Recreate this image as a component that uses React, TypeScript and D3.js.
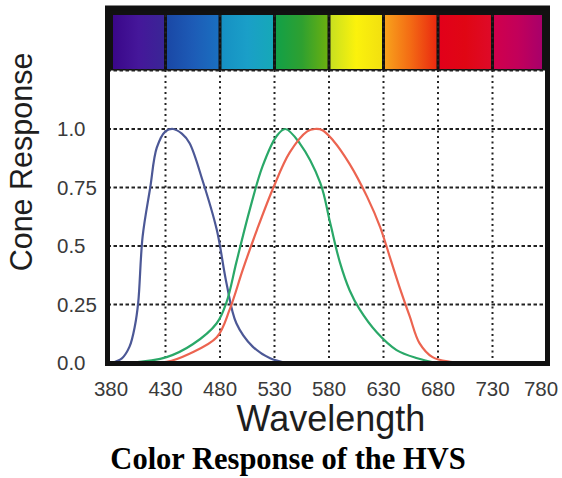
import React from "react";
import * as d3 from "d3";

const xTicks = [380, 430, 480, 530, 580, 630, 680, 730, 780];
const yTicks = [0, 0.25, 0.5, 0.75, 1.0];
const yTickLabels = ["0.0", "0.25", "0.5", "0.75", "1.0"];

// S cone (blue)
const sCone: [number, number][] = [
  [380, 0], [390, 0.02], [397, 0.07], [402, 0.16], [405, 0.26], [409, 0.54], [416, 0.75], [422, 0.92],
  [430, 0.99], [437, 1.0], [445, 0.98], [452, 0.94], [464, 0.78], [477, 0.57], [486, 0.34],
  [495, 0.17], [510, 0.07], [526, 0.02], [541, 0],
];
// M cone (green)
const mCone: [number, number][] = [
  [397, 0], [431, 0.025], [455, 0.08], [477, 0.17], [486, 0.26], [495, 0.43], [507, 0.65],
  [519, 0.84], [532, 0.97], [540, 1.0], [553, 0.94], [572, 0.77], [581, 0.6], [590, 0.43],
  [599, 0.31], [608, 0.23], [624, 0.13], [642, 0.055], [661, 0.02], [679, 0],
];
// L cone (red)
const lCone: [number, number][] = [
  [400, 0], [431, 0.005], [452, 0.04], [477, 0.11], [489, 0.23], [501, 0.4], [514, 0.57],
  [529, 0.75], [544, 0.9], [560, 0.99], [567, 1.0], [574, 0.995], [584, 0.95], [599, 0.85],
  [615, 0.71], [627, 0.58], [636, 0.45], [645, 0.32], [654, 0.2], [663, 0.085], [675, 0.025],
  [691, 0.005], [705, 0],
];

const bandStops: string[][] = [
  ["#3a0789", "#45179a", "#3a2596"],
  ["#1a48a6", "#1d5bb6", "#1a6fc0"],
  ["#1690c3", "#1a9fc8", "#16a8b8"],
  ["#12a048", "#2ea030", "#6ab010"],
  ["#c8e020", "#fbf20c", "#f2e010"],
  ["#f8a21c", "#f36a14", "#ea2a10"],
  ["#e2001a", "#e00614", "#de0a28"],
  ["#d0004c", "#c2005a", "#a8006a"],
];

const series = [
  { data: sCone, color: "#4c5896" },
  { data: mCone, color: "#2aa868" },
  { data: lCone, color: "#ec6450" },
];

export default function App() {
  const W = 562, H = 478;
  const x = d3.scaleLinear().domain([380, 780]).range([111, 547]);
  const y = d3.scaleLinear().domain([0, 1.25]).range([363, 70.5]);
  const line = d3.line<[number, number]>()
    .x((d) => x(d[0]))
    .y((d) => y(d[1]))
    .curve(d3.curveCatmullRom.alpha(0.5));

  const segs = d3.pairs(xTicks);
  const bandTop = 15, bandBot = y(1.25);
  const frameL = 107.5, frameR = 547.5, frameT = 8, frameB = 363.5;
  const sans = "Liberation Sans, Arial, sans-serif";

  return (
    <svg width={W} height={H} style={{ position: "absolute", left: 0, top: 0 }}>
      <defs>
        {bandStops.map((st, i) => (
          <linearGradient key={i} id={`bg${i}`} x1="0" x2="1" y1="0" y2="0">
            {st.map((c, j) => (
              <stop key={j} offset={`${(j / (st.length - 1)) * 100}%`} stopColor={c} />
            ))}
          </linearGradient>
        ))}
      </defs>
      <rect width={W} height={H} fill="#fff" />
      {/* band background */}
      <rect x={frameL} y={frameT} width={frameR - frameL} height={bandBot - frameT} fill="#111" />
      {segs.map(([a, b], i) => {
        const x0 = Math.max(x(a) + 1.5, 113);
        const x1 = Math.min(x(b) - 1.5, 542);
        return (
          <rect key={i} x={x0} y={bandTop} width={x1 - x0} height={bandBot - bandTop - 1.5} fill={`url(#bg${i})`} />
        );
      })}
      {/* grid */}
      {xTicks.slice(1, -1).map((t) => (
        <line key={t} x1={x(t)} x2={x(t)} y1={bandTop} y2={frameB} stroke="#222" strokeWidth={2} strokeDasharray="2,3.5" />
      ))}
      {yTicks.slice(1).map((t) => (
        <line key={t} x1={frameL} x2={frameR} y1={y(t)} y2={y(t)} stroke="#222" strokeWidth={2} strokeDasharray="3.5,2.5" />
      ))}
      <line x1={frameL} x2={frameR} y1={bandBot} y2={bandBot} stroke="#222" strokeWidth={2} strokeDasharray="3.5,2.5" />
      {/* curves */}
      {series.map((s, i) => (
        <path key={i} d={line(s.data) || ""} fill="none" stroke={s.color} strokeWidth={2.2} />
      ))}
      {/* frame */}
      <rect x={frameL} y={frameT} width={frameR - frameL} height={frameB - frameT} fill="none" stroke="#111" strokeWidth={5} />
      {/* y tick labels */}
      {yTicks.map((t, i) => (
        <text key={t} x={57} y={y(t) + 7} fontFamily={sans} fontSize={20.5} fill="#3a3a3a">
          {yTickLabels[i]}
        </text>
      ))}
      {/* x tick labels */}
      {xTicks.map((t, i) => (
        <text key={t} x={i === xTicks.length - 1 ? x(t) - 6 : x(t)} y={396} textAnchor="middle" fontFamily={sans} fontSize={20.5} fill="#3a3a3a">
          {t}
        </text>
      ))}
      <text x={331} y={431} textAnchor="middle" fontFamily={sans} fontSize={36} fill="#1e1e1e">
        Wavelength
      </text>
      <text transform="translate(32,162) rotate(-90)" textAnchor="middle" fontFamily={sans} fontSize={30.5} fill="#1e1e1e">
        Cone Response
      </text>
      <text x={288} y={469} textAnchor="middle" fontFamily="Liberation Serif, Times New Roman, serif" fontWeight="bold" fontSize={30.5} fill="#000">
        Color Response of the HVS
      </text>
    </svg>
  );
}
